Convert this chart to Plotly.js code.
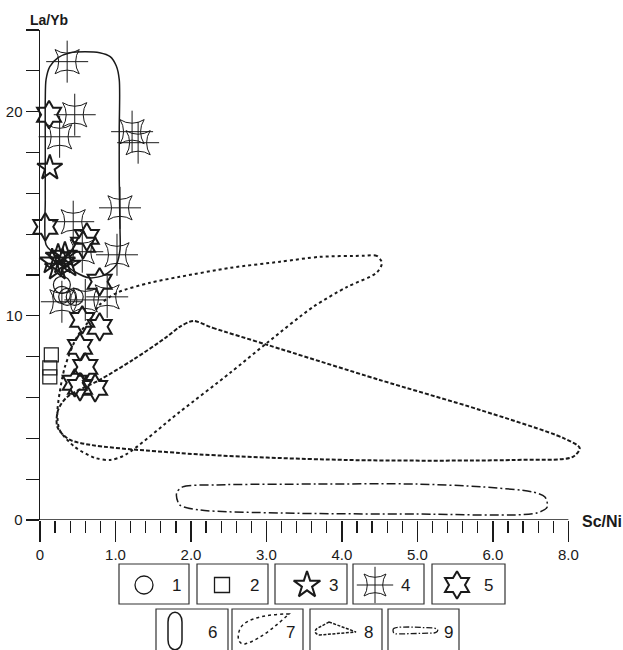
<!DOCTYPE html>
<html>
<head>
<meta charset="utf-8">
<script src="https://cdn.plot.ly/plotly-3.0.1.min.js"></script>
<style>html,body{margin:0;padding:0;background:#fff;}#chart{width:623px;height:650px;}</style>
</head>
<body>
<div id="chart"></div>
<script>
// ---------- tick labels ----------
const xTickVals = [0, 1, 2, 3, 4, 5, 6, 7];
const xTickLabels = ['0', '1.0', '2.0', '3.0', '4.0', '5.0', '6.0', '8.0'];
const yTickVals = [0, 2, 4, 6, 8, 10, 12, 14, 16, 18, 20, 22, 24];
const yTickLabels = ['0', '', '', '', '', '10', '', '', '', '', '20', '', ''];

// ---------- sample groups (Sc/Ni, La/Yb) ----------
const g1X = [0.29, 0.36, 0.46, 0.29];
const g1Y = [11.52, 10.93, 10.93, 11.03];
const g2X = [0.15, 0.13, 0.13];
const g2Y = [8.09, 7.45, 7.01];
const g3X = [0.13, 0.16, 0.24, 0.30, 0.37, 0.23, 0.33];
const g3Y = [17.25, 12.65, 12.89, 12.65, 12.50, 12.35, 12.99];
const g4X = [0.36, 0.46, 0.26, 1.22, 1.30, 1.06, 1.02, 0.44, 0.56, 0.29, 0.89, 0.60];
const g4Y = [22.45, 19.85, 18.77, 19.02, 18.48, 15.29, 12.99, 14.61, 13.14, 10.69, 10.93, 10.78];
const g5X = [0.12, 0.07, 0.62, 0.57, 0.79, 0.56, 0.79, 0.53, 0.60, 0.46, 0.53, 0.73];
const g5Y = [19.85, 14.36, 13.87, 13.48, 11.67, 9.80, 9.46, 8.48, 7.50, 6.72, 6.52, 6.47];

// ---------- fields (outlines) ----------
const f6X = [0.08, 0.07, 0.07, 0.07, 0.08, 0.13, 0.24, 0.40, 0.60, 0.79, 0.93, 1.01, 1.05, 1.05, 1.05, 1.06, 1.06, 1.01, 0.86, 0.66, 0.46, 0.29, 0.16];
const f6Y = [13.48, 15.69, 18.14, 20.59, 21.57, 22.21, 22.65, 22.89, 22.94, 22.89, 22.70, 22.25, 21.57, 19.12, 16.67, 14.22, 13.24, 12.50, 12.01, 11.86, 12.16, 12.65, 13.14];
const f7X = [4.53, 4.46, 4.28, 3.71, 3.18, 2.52, 1.85, 1.46, 1.02, 0.79, 0.66, 0.49, 0.33, 0.26, 0.23, 0.26, 0.46, 0.73, 0.93, 1.13, 1.85, 2.52, 3.01, 3.62, 4.07, 4.46];
const f7Y = [12.60, 12.94, 12.94, 12.89, 12.65, 12.35, 11.91, 11.62, 11.13, 10.54, 9.80, 8.97, 7.50, 6.23, 5.25, 4.41, 3.58, 3.04, 2.94, 3.19, 5.29, 7.21, 8.68, 10.44, 11.42, 12.11];
const f8X = [2.03, 2.29, 3.01, 4.50, 5.83, 6.93, 7.15, 7.06, 6.26, 4.07, 1.85, 0.40, 0.23, 0.24, 0.36, 0.79, 1.23, 1.68, 1.85];
const f8Y = [9.75, 9.41, 8.58, 6.86, 5.39, 4.02, 3.53, 3.09, 2.94, 2.94, 3.28, 3.92, 4.56, 5.39, 6.03, 6.86, 7.84, 8.97, 9.46];
const f9X = [1.81, 1.89, 2.34, 3.67, 4.99, 5.87, 6.53, 6.69, 6.72, 6.58, 4.99, 3.22, 2.12, 1.85];
const f9Y = [1.32, 1.62, 1.72, 1.76, 1.76, 1.62, 1.37, 1.13, 0.64, 0.34, 0.29, 0.34, 0.49, 0.74];

const legendNums = ['1', '2', '3', '4', '5', '6', '7', '8', '9'];

// ---------- layout geometry (pixels) ----------
const W = 623, H = 650;
const PL = 40, PR = 591, PT = 30, PB = 520;
const XMAX = 7.3;
const FONT = '"Liberation Sans", Arial, sans-serif';
const INK = '#1a1a1a';

function closed(a) { return a.concat([a[0]]); }
const symLine = (w) => ({ color: INK, width: w });

const traces = [];
// fields
traces.push({ x: closed(f6X), y: closed(f6Y), mode: 'lines', line: { color: INK, width: 1.5, shape: 'spline', smoothing: 0.8 }, hoverinfo: 'skip' });
traces.push({ x: closed(f7X), y: closed(f7Y), mode: 'lines', line: { color: INK, width: 2, dash: 'dot', shape: 'spline', smoothing: 0.8 }, hoverinfo: 'skip' });
traces.push({ x: closed(f8X), y: closed(f8Y), mode: 'lines', line: { color: INK, width: 2, dash: '4px,2px', shape: 'spline', smoothing: 0.8 }, hoverinfo: 'skip' });
traces.push({ x: closed(f9X), y: closed(f9Y), mode: 'lines', line: { color: INK, width: 1.5, dash: '9px,3px,2px,3px', shape: 'spline', smoothing: 0.8 }, hoverinfo: 'skip' });

// marker styles
function mk(symbol, size, w) { return { symbol: symbol, size: size, line: symLine(w), color: INK }; }
const st1 = mk('circle-open', 17, 1.2);
const st2 = mk('square-open', 14, 1.2);
const st3 = mk('star-open', 19, 2);
const st4a = mk('star-square-open', 22, 1);
const st4b = mk('cross-thin-open', 30, 1);
const st5 = mk('hexagram-open', 21, 2);

function pts(x, y, m, xa, ya) {
  return { x: x, y: y, mode: 'markers', marker: m, cliponaxis: false, hoverinfo: 'skip', xaxis: xa || 'x', yaxis: ya || 'y' };
}
traces.push(pts(g1X, g1Y, st1));
traces.push(pts(g2X, g2Y, st2));
traces.push(pts(g3X, g3Y, st3));
traces.push(pts(g4X, g4Y, st4a));
traces.push(pts(g4X, g4Y, st4b));
traces.push(pts(g5X, g5Y, st5));

// ---------- legend (pixel-space overlay axes x2/y2) ----------
const row1Boxes = [[119, 189], [197, 268], [275, 347], [353, 424], [432, 505]];
const row1Y = [564, 604];
const row2Boxes = [[156, 228], [232, 303], [310, 382], [388, 459]];
const row2Y = [609, 660];
const row1NumX = [176, 254, 333, 405, 488];
const row2NumX = [212, 290, 368, 448];

traces.push(pts([144], [585], mk('circle-open', 18, 1.3), 'x2', 'y2'));
traces.push(pts([222], [585], mk('square-open', 15, 1.3), 'x2', 'y2'));
traces.push(pts([307], [585], mk('star-open', 20, 2), 'x2', 'y2'));
traces.push(pts([375], [585], mk('star-square-open', 20, 1), 'x2', 'y2'));
traces.push(pts([375], [585], mk('cross-thin-open', 26, 1), 'x2', 'y2'));
traces.push(pts([457], [585], mk('hexagram-open', 21, 2), 'x2', 'y2'));

const shapes = [];
// x axis line (from 0 to the last tick)
shapes.push({ type: 'line', xref: 'x', yref: 'y', x0: 0, x1: 7, y0: 0, y1: 0, line: { color: INK, width: 1.5 } });
row1Boxes.forEach(function (b) {
  shapes.push({ type: 'rect', xref: 'x2', yref: 'y2', x0: b[0], x1: b[1], y0: row1Y[0], y1: row1Y[1], line: { color: '#333', width: 1.2 } });
});
row2Boxes.forEach(function (b) {
  shapes.push({ type: 'rect', xref: 'x2', yref: 'y2', x0: b[0], x1: b[1], y0: row2Y[0], y1: row2Y[1], line: { color: '#333', width: 1.2 } });
});
// legend field glyphs
shapes.push({ type: 'path', xref: 'x2', yref: 'y2', path: 'M168,622 C168,609 182,609 182,622 L182,640 C182,653 168,653 168,640 Z', line: { color: INK, width: 1.5 } });
shapes.push({ type: 'path', xref: 'x2', yref: 'y2', path: 'M289,614 C272,614 248,617 241,627 C236,636 238,645 245,644 C260,640 278,624 289,614 Z', line: { color: INK, width: 1.5, dash: 'dot' } });
shapes.push({ type: 'path', xref: 'x2', yref: 'y2', path: 'M329,622 L356,632 L320,635 C314,634 314,630 318,628 Z', line: { color: INK, width: 1.5, dash: '3px,1.5px' } });
shapes.push({ type: 'path', xref: 'x2', yref: 'y2', path: 'M393,630 C393,627 398,627 410,627 L434,628 C439,629 439,632 434,633 L398,634 C393,634 393,632 393,630 Z', line: { color: INK, width: 1.3, dash: '6px,2px,1.5px,2px' } });

const annotations = [];
row1NumX.forEach(function (x, i) {
  annotations.push({ xref: 'x2', yref: 'y2', x: x, y: 585, text: legendNums[i], showarrow: false, font: { family: FONT, size: 17, color: INK }, xanchor: 'center', yanchor: 'middle' });
});
row2NumX.forEach(function (x, i) {
  annotations.push({ xref: 'x2', yref: 'y2', x: x, y: 632, text: legendNums[5 + i], showarrow: false, font: { family: FONT, size: 17, color: INK }, xanchor: 'center', yanchor: 'middle' });
});
annotations.push({ xref: 'x2', yref: 'y2', x: 49, y: 20, text: '<b>La/Yb</b>', showarrow: false, font: { family: FONT, size: 14, color: INK }, xanchor: 'center', yanchor: 'middle' });
annotations.push({ xref: 'x2', yref: 'y2', x: 580, y: 521, text: '<b>Sc/Ni</b>', showarrow: false, font: { family: FONT, size: 16, color: INK }, xanchor: 'left', yanchor: 'middle' });

const minorX = [];
for (let i = 0; i < 35; i++) { if (i % 5 !== 0) minorX.push(i / 5); }

const layout = {
  width: W, height: H,
  margin: { l: 0, r: 0, t: 0, b: 0 },
  paper_bgcolor: '#ffffff', plot_bgcolor: 'rgba(0,0,0,0)',
  showlegend: false,
  xaxis: {
    domain: [PL / W, PR / W], range: [0, XMAX], anchor: 'y',
    showline: false, zeroline: false, showgrid: false, automargin: false,
    tickmode: 'array', tickvals: xTickVals, ticktext: xTickLabels,
    ticks: 'outside', ticklen: 21, tickwidth: 1.3, tickcolor: INK,
    tickfont: { family: FONT, size: 15, color: INK },
    minor: { tickmode: 'array', tickvals: minorX, ticks: 'outside', ticklen: 12, tickwidth: 1.3, tickcolor: INK, showgrid: false }
  },
  yaxis: {
    domain: [1 - PB / H, 1 - PT / H], range: [0, 24], anchor: 'x',
    showline: true, linecolor: INK, linewidth: 1.5, zeroline: false, showgrid: false, automargin: false,
    tickmode: 'array', tickvals: yTickVals, ticktext: yTickLabels,
    ticks: 'outside', ticklen: 13, tickwidth: 1.3, tickcolor: INK,
    tickfont: { family: FONT, size: 15, color: INK }
  },
  xaxis2: { domain: [0, 1], range: [0, W], anchor: 'y2', visible: false, fixedrange: true },
  yaxis2: { domain: [0, 1], range: [H, 0], anchor: 'x2', visible: false, fixedrange: true },
  shapes: shapes,
  annotations: annotations
};

Plotly.newPlot('chart', traces, layout, { staticPlot: true, displayModeBar: false });
</script>
</body>
</html>
